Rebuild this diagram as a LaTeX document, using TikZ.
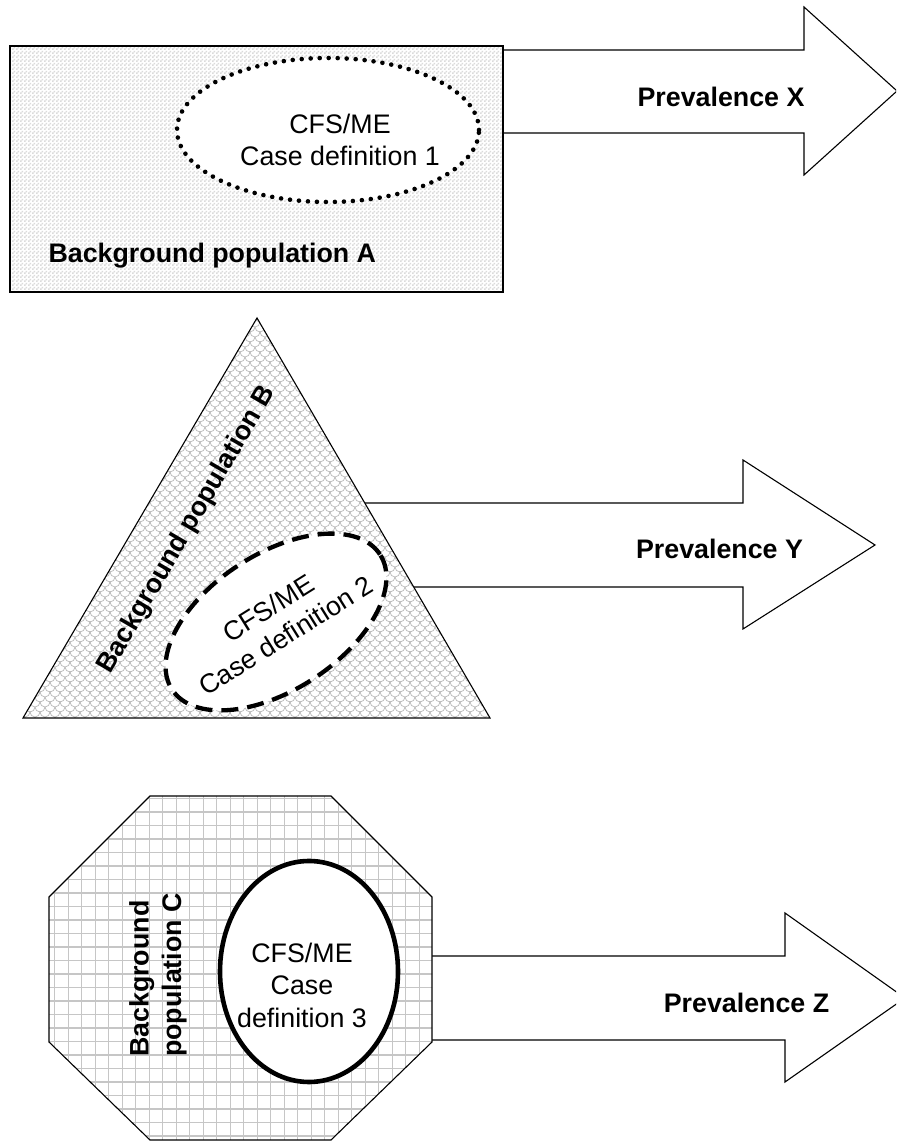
\documentclass[tikz,border=0pt]{standalone}
\usepackage{fontspec}
\setmainfont{Liberation Sans}
\usetikzlibrary{shapes,patterns,positioning}

% fine checker for population A
\pgfdeclarepatternformonly{finecheck}{\pgfqpoint{0pt}{0pt}}{\pgfqpoint{4pt}{4pt}}{\pgfqpoint{4pt}{4pt}}{%
  \pgfpathrectangle{\pgfqpoint{0pt}{0pt}}{\pgfqpoint{2pt}{2pt}}%
  \pgfpathrectangle{\pgfqpoint{2pt}{2pt}}{\pgfqpoint{2pt}{2pt}}%
  \pgfusepath{fill}}

% scales for population B
\pgfdeclarepatternformonly{scales}{\pgfqpoint{-1pt}{-1pt}}{\pgfqpoint{11pt}{11pt}}{\pgfqpoint{10pt}{10pt}}{%
  \pgfsetlinewidth{0.7pt}%
  \pgfpathmoveto{\pgfqpoint{0pt}{10pt}}\pgfpatharc{180}{360}{5pt}%
  \pgfpathmoveto{\pgfqpoint{-5pt}{5pt}}\pgfpatharc{180}{360}{5pt}%
  \pgfpathmoveto{\pgfqpoint{5pt}{5pt}}\pgfpatharc{180}{360}{5pt}%
  \pgfusepath{stroke}}

\begin{document}
\begin{tikzpicture}[x=1pt, y=1pt,
  popshape/.style={draw, line width=1.1pt, preaction={fill=white}},
  gridline/.style={draw=gray!45, line width=1.1pt},
  bigarrow/.style={draw, line width=1.1pt, fill=white, line join=miter},
  casedef/.style={ellipse, draw, fill=white, inner sep=0pt},
  dotline/.style={line width=4.6pt, dash pattern=on 0pt off 9pt, line cap=round},
  dashline/.style={line width=4.3pt, dash pattern=on 17pt off 9pt},
  deftext/.style={align=center, font=\fontsize{26.8}{32.5}\selectfont},
  poplabel/.style={font=\fontsize{26.8}{32.5}\selectfont\bfseries}
  ]
  \useasboundingbox (0,0) rectangle (896,1142);
  \clip (0,0) rectangle (896,1142);

  % arrows go under the shapes
  \draw[bigarrow] (480,1092) -- (804,1092) -- (804,1135) -- (897,1051) -- (804,967) -- (804,1009) -- (480,1009);
  \draw[bigarrow] (320,639) -- (743,639) -- (743,682) -- (875,597) -- (743,513) -- (743,555) -- (320,555);
  \draw[bigarrow] (400,186) -- (785,186) -- (785,229) -- (905,144) -- (785,60) -- (785,102) -- (400,102);

  % population A
  \draw[popshape, pattern=finecheck, pattern color=gray!28] (10,850) rectangle (503,1096);
  \node[casedef, dotline, minimum width=302, minimum height=144] (def1) at (328,1012) {};
  \node[deftext] (def1txt) at (340,1002) {CFS/ME\\Case definition 1};
  \node[poplabel, anchor=base west] (popA) at (45,879) {Background population A};
  \node[poplabel, anchor=base] (prevX) at (721,1035) {Prevalence X};

  % population B
  \draw[popshape, pattern=scales, pattern color=gray!55] (23,424) -- (257,824) -- (490,424) -- cycle;
  \node[casedef, dashline, rotate=33, minimum width=248, minimum height=136] (def2) at (276,520) {};
  \node[deftext, rotate=32] (def2txt) at (277,520) {CFS/ME\\Case definition 2};
  \node[poplabel, rotate=59.7] (popB) at (187,612) {Background population B};
  \node[poplabel, anchor=base] (prevY) at (719.5,583) {Prevalence Y};

  % population C
  \draw[popshape, path picture={
      \foreach \k in {0,...,29} {
        \draw[gridline] ({41.3+13.5*\k},0) -- ++(0,350);
        \draw[gridline] (40,{-7.5+13.5*\k}) -- ++(400,0);
      }}]
    (150,346) -- (331,346) -- (432,245) -- (432,100) -- (331,2) -- (150,2) -- (49,100) -- (49,245) -- cycle;
  \node[casedef, line width=4.6pt, minimum width=178, minimum height=221] (def3) at (309,170.5) {};
  \node[deftext] (def3txt) at (302,157) {CFS/ME\\Case\\definition 3};
  \node[poplabel, rotate=90, align=left] (popC) at (158,167) {Background\\population C};
  \node[poplabel, anchor=base] (prevZ) at (746.5,129) {Prevalence Z};
\end{tikzpicture}
\end{document}
